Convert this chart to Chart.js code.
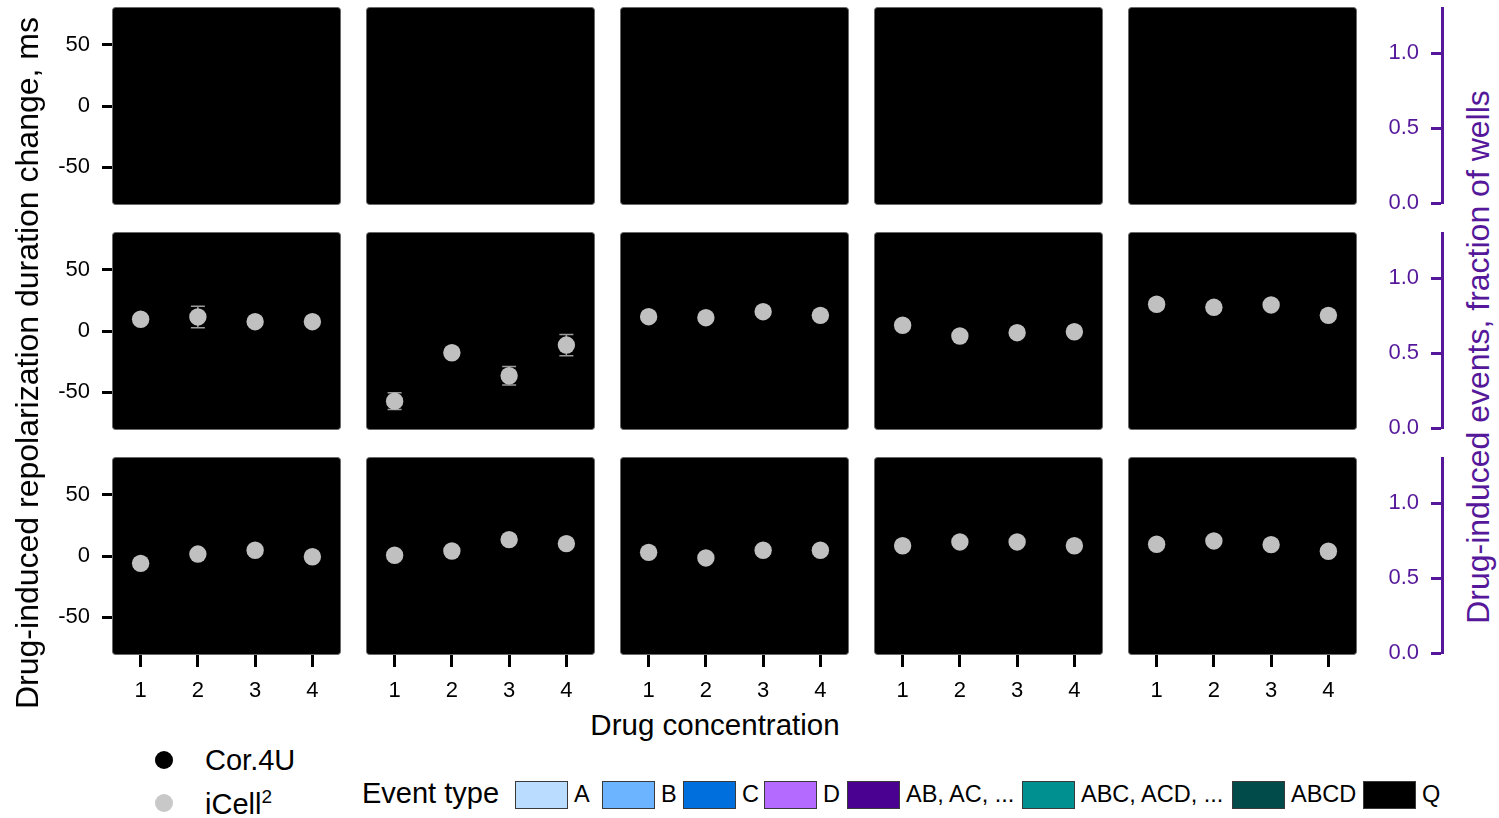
<!DOCTYPE html>
<html><head><meta charset="utf-8">
<script src="https://cdn.jsdelivr.net/npm/chart.js@4/dist/chart.umd.min.js"></script>
<style>
html,body{margin:0;padding:0;}
body{width:1499px;height:818px;background:#fff;position:relative;overflow:hidden;font-family:"Liberation Sans",Arial,Helvetica,sans-serif;}
canvas{position:absolute;}
.t{position:absolute;white-space:nowrap;color:#000;line-height:1;}
.c{transform:translate(-50%,-50%);}
.r{transform:translate(-50%,-50%) rotate(-90deg);}
.ly{transform:translateY(-50%);}
.box{position:absolute;width:51px;height:26px;border:1px solid #3a3a3a;box-sizing:content-box;}
.dot{position:absolute;width:18px;height:18px;border-radius:50%;transform:translate(-50%,-50%);}
</style></head><body>
<script>
// ---------- data ----------
const concentrations = [1, 2, 3, 4];
const xTickLabels = [1, 2, 3, 4];
const yTickValues = [-50, 0, 50];
const fractionTicks = [0, 0.5, 1.0];
const seriesNames = ['Cor.4U', 'iCell²'];

// iCell² mean change (ms), one inner list per drug column; row 1 has no data
const iCellRow1 = [[], [], [], [], []];
const iCellRow2 = [
  [9.6, 11.5, 7.6, 7.6],
  [-57.4, -17.8, -36.6, -11.5],
  [11.7, 10.9, 15.8, 12.8],
  [4.7, -4.1, -1.4, -0.6],
  [21.9, 19.4, 21.3, 12.8]
];
const iCellRow3 = [
  [-6.0, 1.6, 4.7, -0.6],
  [0.6, 4.1, 13.4, 10.1],
  [3.0, -1.6, 4.7, 4.7],
  [8.4, 11.5, 11.5, 8.4],
  [9.6, 12.3, 9.3, 3.9]
];
// error (± ms)
const iCellErrRow2 = [
  [3, 8.8, 3, 3],
  [6.8, 3, 7.5, 8.7],
  [3, 3, 3, 3],
  [3, 3, 3, 3],
  [4, 3, 3, 3]
];
const iCellErrRow3 = [
  [3, 3, 3, 3],
  [3, 3, 3, 3],
  [3, 3, 3, 3],
  [3, 3, 3, 3],
  [3, 3, 3, 3]
];

const eventTypes = ['A', 'B', 'C', 'D', 'AB, AC, ...', 'ABC, ACD, ...', 'ABCD', 'Q'];
const eventColors = ['#B9DCFF', '#6CB4FF', '#006FDE', '#B46AFF', '#4A0090', '#009090', '#024B4B', '#000000'];

// ---------- layout ----------
const FONT = '"Liberation Sans", Arial, Helvetica, sans-serif';
const PURPLE = '#56189A';
const colLeft = [112, 366, 620, 874, 1128];
const rowTop = [7, 232, 457];
const PW = 229, PH = 198;
const YAXW = 112, XAXH = 50;

const panelBg = {
  id: 'panelBg',
  beforeDraw(chart) {
    const {ctx, chartArea: a} = chart;
    ctx.save();
    ctx.beginPath();
    ctx.roundRect(a.left + 0.5, a.top + 0.5, a.width - 1, a.height - 1, 3);
    ctx.fillStyle = '#000';
    ctx.fill();
    ctx.lineWidth = 1;
    ctx.strokeStyle = '#6a6a6a';
    ctx.stroke();
    ctx.restore();
  }
};

const errBars = {
  id: 'errBars',
  beforeDatasetsDraw(chart, args, opts) {
    const errs = opts.errors || [];
    const vals = opts.values || [];
    const {ctx, scales: {x, y}} = chart;
    ctx.save();
    ctx.strokeStyle = '#9a9a9a';
    ctx.lineWidth = 1.5;
    vals.forEach((v, i) => {
      const e = errs[i] || 0;
      const px = x.getPixelForValue(concentrations[i]);
      const y1 = y.getPixelForValue(v + e), y2 = y.getPixelForValue(v - e);
      ctx.beginPath();
      ctx.moveTo(px, y1); ctx.lineTo(px, y2);
      ctx.moveTo(px - 7, y1); ctx.lineTo(px + 7, y1);
      ctx.moveTo(px - 7, y2); ctx.lineTo(px + 7, y2);
      ctx.stroke();
    });
    ctx.restore();
  }
};

function addCanvas(left, top, w, h) {
  const c = document.createElement('canvas');
  c.width = w; c.height = h;
  c.style.left = left + 'px'; c.style.top = top + 'px';
  c.style.width = w + 'px'; c.style.height = h + 'px';
  document.body.appendChild(c);
  return c;
}

function noPad(a) { a.paddingTop = 0; a.paddingBottom = 0; a.paddingLeft = 0; a.paddingRight = 0; }

function makePanel(r, c, values, errors) {
  const hasY = c === 0, hasX = r === 2;
  const left = colLeft[c] - (hasY ? YAXW : 0);
  const w = PW + (hasY ? YAXW : 0);
  const h = PH + (hasX ? XAXH : 0);
  const canvas = addCanvas(left, rowTop[r], w, h);
  new Chart(canvas, {
    type: 'scatter',
    data: {
      datasets: [{
        label: seriesNames[1],
        data: values.map((v, i) => ({x: concentrations[i], y: v})),
        backgroundColor: '#C0C0C0',
        borderColor: '#C0C0C0',
        pointRadius: 8.7,
        pointHoverRadius: 8.7,
        borderWidth: 0
      }]
    },
    options: {
      responsive: false, animation: false, events: [],
      layout: {padding: 0, autoPadding: false},
      plugins: {legend: {display: false}, tooltip: {enabled: false},
        errBars: {values: values, errors: errors}},
      scales: {
        x: {
          type: 'linear', min: 0.5, max: 4.5, display: hasX,
          afterBuildTicks: a => { a.ticks = xTickLabels.map(v => ({value: v})); },
          afterFit: a => { noPad(a); a.height = hasX ? XAXH : 0; },
          grid: {drawOnChartArea: false, drawTicks: true, tickLength: 12, tickWidth: 3, tickColor: '#000'},
          border: {display: false},
          ticks: {color: '#000', font: {size: 22, family: FONT}, padding: 11, maxRotation: 0}
        },
        y: {
          type: 'linear', min: -81, max: 81, display: hasY,
          afterBuildTicks: a => { a.ticks = yTickValues.map(v => ({value: v})); },
          afterFit: a => { noPad(a); a.width = hasY ? YAXW : 0; },
          grid: {drawOnChartArea: false, drawTicks: true, tickLength: 10, tickWidth: 3, tickColor: '#000'},
          border: {display: false},
          ticks: {color: '#000', font: {size: 22, family: FONT}, padding: 12}
        }
      }
    },
    plugins: [panelBg, errBars]
  });
}

function makeRightAxis(r) {
  const padT = 14, padB = 16, axW = 82, w = 90;
  const canvas = addCanvas(1360, rowTop[r] + 1 - padT, w, 195 + padT + padB);
  new Chart(canvas, {
    type: 'scatter',
    data: {datasets: []},
    options: {
      responsive: false, animation: false, events: [],
      layout: {padding: {top: padT, bottom: padB, left: 0, right: 0}, autoPadding: false},
      plugins: {legend: {display: false}, tooltip: {enabled: false}},
      scales: {
        x: {type: 'linear', display: false, min: 0, max: 1, afterFit: a => { noPad(a); a.height = 0; }},
        y: {
          type: 'linear', position: 'left', min: 0, max: 1.3,
          afterBuildTicks: a => { a.ticks = fractionTicks.map(v => ({value: v})); },
          afterFit: a => { noPad(a); a.width = axW; },
          grid: {drawOnChartArea: false, drawTicks: true, tickLength: 11, tickWidth: 3, tickColor: PURPLE},
          border: {display: true, color: PURPLE, width: 3},
          ticks: {color: PURPLE, font: {size: 22, family: FONT}, padding: 12,
            callback: v => Number(v).toFixed(1)}
        }
      }
    }
  });
}

const rows = [[iCellRow1, null], [iCellRow2, iCellErrRow2], [iCellRow3, iCellErrRow3]];
rows.forEach(([vals, errs], r) => {
  vals.forEach((v, c) => makePanel(r, c, v, errs ? errs[c] : []));
  makeRightAxis(r);
});

// ---------- titles & legends (text) ----------
function addText(html, cls, left, top, size, color, extra) {
  const d = document.createElement('div');
  d.className = 't ' + cls;
  d.innerHTML = html;
  d.style.left = left + 'px'; d.style.top = top + 'px';
  d.style.fontSize = size + 'px';
  if (color) d.style.color = color;
  if (extra) Object.assign(d.style, extra);
  document.body.appendChild(d);
  return d;
}
addText('Drug-induced repolarization duration change, ms', 'r', 27, 363, 32);
addText('Drug-induced events, fraction of wells', 'r', 1478, 357, 32, PURPLE);
addText('Drug concentration', 'c', 715, 725, 29.5);

// series legend
const dotColors = ['#000000', '#C8C8C8'];
[760, 803].forEach((yy, i) => {
  const d = document.createElement('div');
  d.className = 'dot';
  d.style.left = '164px'; d.style.top = yy + 'px';
  d.style.background = dotColors[i];
  document.body.appendChild(d);
});
addText(seriesNames[0], 'ly', 205, 760, 29);
addText('iCell<sup style="font-size:19px;vertical-align:0;position:relative;top:-11px">2</sup>', 'ly', 205, 804, 29);

// event legend
addText('Event type', 'ly', 362, 793, 29);
const boxLeft = [515, 602, 683, 764, 847, 1022, 1232, 1363];
eventTypes.forEach((lab, i) => {
  const b = document.createElement('div');
  b.className = 'box';
  b.style.left = boxLeft[i] + 'px'; b.style.top = '781px';
  b.style.background = eventColors[i];
  document.body.appendChild(b);
  addText(lab, 'ly', boxLeft[i] + 59, 795, 23.5);
});
</script>
</body></html>
